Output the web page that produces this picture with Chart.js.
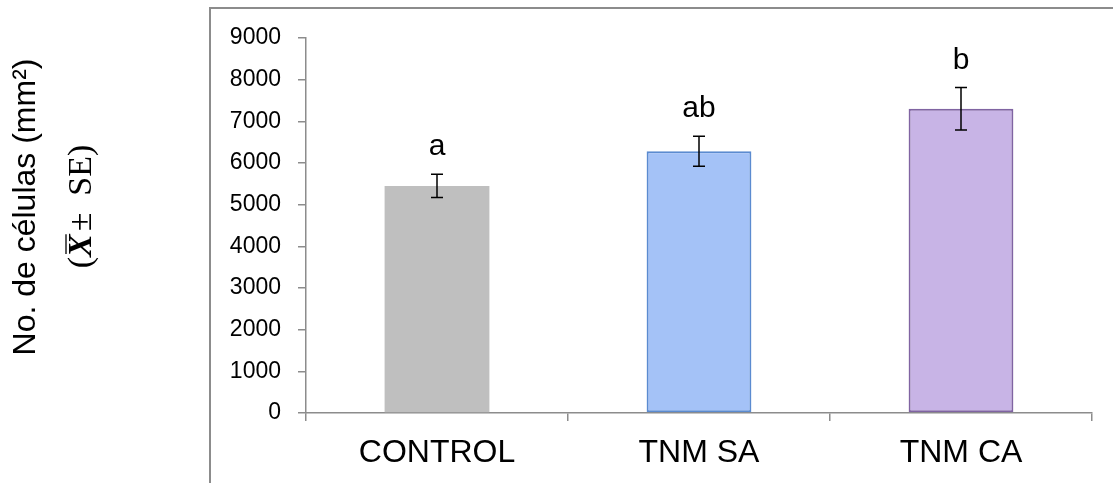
<!DOCTYPE html>
<html>
<head>
<meta charset="utf-8">
<script src="https://cdn.jsdelivr.net/npm/chart.js@4.4.1/dist/chart.umd.min.js"></script>
<style>
  body { margin: 0; background: #fff; }
  #wrap { width: 1113px; height: 483px; position: relative; }
</style>
</head>
<body>
<div id="wrap"><canvas id="chart"></canvas></div>
<script>
// Datos
const categories = ['CONTROL', 'TNM SA', 'TNM CA'];
const meanValues = [5450, 6280, 7300];
const seValues = [280, 360, 510];
const letters = ['a', 'ab', 'b'];
const yTicks = [0, 1000, 2000, 3000, 4000, 5000, 6000, 7000, 8000, 9000];

// Estilos
const fillColors = ['#bfbfbf', '#a4c2f7', '#c8b4e6'];
const edgeColors = ['#bfbfbf', '#5b8bd0', '#8064a2'];
const edgeWidths = [0, 2, 2];
const axisColor = '#8c8c8c';
const sans = "'Liberation Sans', Arial, sans-serif";
const serif = "'Liberation Serif', 'Times New Roman', serif";

// Marco exterior del gráfico
const framePlugin = {
  id: 'frame',
  beforeDraw(chart) {
    const ctx = chart.ctx;
    ctx.save();
    ctx.strokeStyle = axisColor;
    ctx.lineWidth = 2;
    ctx.strokeRect(210, 8, 1000, 600);
    ctx.restore();
  }
};

// Barras de error y letras de significancia
const errorPlugin = {
  id: 'errorBars',
  afterDatasetsDraw(chart) {
    const ctx = chart.ctx;
    const y = chart.scales.y;
    const meta = chart.getDatasetMeta(0);
    ctx.save();
    meta.data.forEach((bar, i) => {
      const x = bar.x;
      const top = y.getPixelForValue(meanValues[i] + seValues[i]);
      const bottom = y.getPixelForValue(meanValues[i] - seValues[i]);
      ctx.strokeStyle = '#000';
      ctx.lineWidth = 1.5;
      ctx.beginPath();
      ctx.moveTo(x, top); ctx.lineTo(x, bottom);
      ctx.moveTo(x - 6, top); ctx.lineTo(x + 6, top);
      ctx.moveTo(x - 6, bottom); ctx.lineTo(x + 6, bottom);
      ctx.stroke();

      ctx.fillStyle = '#000';
      ctx.font = '30px ' + sans;
      ctx.textAlign = 'center';
      ctx.textBaseline = 'alphabetic';
      ctx.fillText(letters[i], x, top - 19);
    });
    ctx.restore();
  }
};

// Título del eje Y (dos líneas, fuentes distintas)
const yTitlePlugin = {
  id: 'yTitle',
  afterDraw(chart) {
    const ctx = chart.ctx;
    ctx.save();
    ctx.fillStyle = '#000';
    ctx.translate(26, 207);
    ctx.rotate(-Math.PI / 2);
    ctx.font = '32px ' + sans;
    ctx.textAlign = 'center';
    ctx.textBaseline = 'middle';
    ctx.fillText('No. de células (mm²)', 0, 0);
    ctx.restore();

    // Segunda línea: (X̄ ± SE)
    ctx.save();
    ctx.fillStyle = '#000';
    ctx.strokeStyle = '#000';
    ctx.translate(80, 208);
    ctx.rotate(-Math.PI / 2);
    ctx.textBaseline = 'middle';
    ctx.textAlign = 'left';
    const parts = [
      { t: '(', f: '34px ' + serif },
      { t: 'X', f: 'italic bold 34px ' + serif, bar: true },
      { t: '± ', f: '34px ' + serif },
      { t: ' SE)', f: '34px ' + serif }
    ];
    let total = 0;
    parts.forEach(p => { ctx.font = p.f; p.w = ctx.measureText(p.t).width; total += p.w; });
    let cx = -total / 2;
    parts.forEach(p => {
      ctx.font = p.f;
      ctx.fillText(p.t, cx, 2);
      if (p.bar) {
        ctx.lineWidth = 1.3;
        ctx.beginPath();
        ctx.moveTo(cx + 3, -14);
        ctx.lineTo(cx + p.w, -14);
        ctx.stroke();
      }
      cx += p.w + (p.bar ? 3 : 0);
    });
    ctx.restore();
  }
};

const ctx = document.getElementById('chart').getContext('2d');
new Chart(ctx, {
  type: 'bar',
  data: {
    labels: categories,
    datasets: [{
      data: meanValues,
      backgroundColor: fillColors,
      borderColor: edgeColors,
      borderWidth: edgeWidths,
      borderSkipped: false,
      barPercentage: 0.4,
      categoryPercentage: 1
    }]
  },
  options: {
    responsive: true,
    maintainAspectRatio: false,
    animation: false,
    layout: { padding: { left: 210, top: 38, right: 21, bottom: 0 } },
    plugins: {
      legend: { display: false },
      tooltip: { enabled: false }
    },
    scales: {
      x: {
        offset: true,
        grid: { offset: true, drawOnChartArea: false, tickLength: 8, color: axisColor, lineWidth: 1.5 },
        border: { color: axisColor, width: 1.5 },
        ticks: { color: '#000', font: { family: sans, size: 32 }, padding: 13, maxRotation: 0 },
        afterFit(scale) {
          scale.height = 70;
          scale.paddingLeft = 0;
          scale.paddingRight = 0;
        }
      },
      y: {
        min: 0,
        max: 9000,
        afterBuildTicks(scale) {
          scale.ticks = yTicks.map(v => ({ value: v }));
        },
        grid: { drawOnChartArea: false, tickLength: 8, color: axisColor, lineWidth: 1.5 },
        border: { color: axisColor, width: 1.5 },
        ticks: {
          color: '#000',
          font: { family: sans, size: 23 },
          padding: 17,
          callback: (v) => String(v)
        },
        afterFit(scale) {
          scale.width = 96;
          scale.paddingTop = 0;
          scale.paddingBottom = 0;
        }
      }
    }
  },
  plugins: [framePlugin, errorPlugin, yTitlePlugin]
});
</script>
</body>
</html>
